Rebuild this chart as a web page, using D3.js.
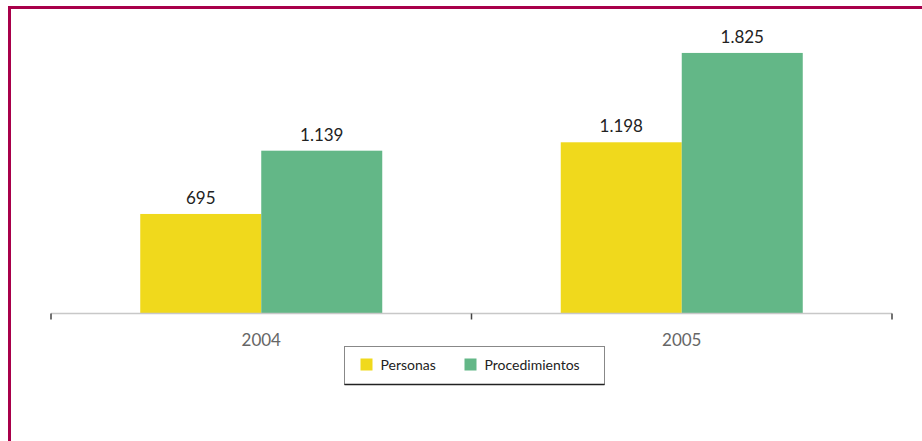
<!DOCTYPE html>
<html>
<head>
<meta charset="utf-8">
<script src="https://cdn.jsdelivr.net/npm/d3@7"></script>
<style>
  html, body { margin: 0; padding: 0; background: #fff; }
  svg { display: block; }
</style>
</head>
<body>
<svg id="chart" width="922" height="441"></svg>
<script>
const categories = ["2004", "2005"];
const seriesNames = ["Personas", "Procedimientos"];
const personas = [695, 1198];
const procedimientos = [1139, 1825];
const seriesColors = ["#f0d91c", "#63b787"];

const svg = d3.select("#chart");
const W = 922, H = 441;

// frame border (top + left)
svg.append("path")
  .attr("d", `M9.5,${H} L9.5,7.5 L${W},7.5`)
  .attr("fill", "none")
  .attr("stroke", "#a8004a")
  .attr("stroke-width", 3);

const x0 = d3.scaleBand().domain(categories).range([51, 892]).paddingInner(0).paddingOuter(0);
const x1 = d3.scaleBand().domain(seriesNames).range([0, 242]);
const y = d3.scaleLinear().domain([0, 2000]).range([313, 28]);

const data = categories.map((c, i) => ({
  cat: c,
  vals: [
    { name: seriesNames[0], value: personas[i], color: seriesColors[0] },
    { name: seriesNames[1], value: procedimientos[i], color: seriesColors[1] }
  ]
}));

const fmt = v => d3.format(",")(v).replace(/,/g, ".");

const g = svg.append("g");
const groups = g.selectAll("g.cat").data(data).join("g")
  .attr("transform", d => `translate(${x0(d.cat) + x0.bandwidth() / 2 - 121},0)`);

groups.selectAll("rect").data(d => d.vals).join("rect")
  .attr("x", d => x1(d.name))
  .attr("y", d => y(d.value))
  .attr("width", x1.bandwidth())
  .attr("height", d => y(0) - y(d.value))
  .attr("fill", d => d.color);

groups.selectAll("text.val").data(d => d.vals).join("text")
  .attr("class", "val")
  .attr("x", d => x1(d.name) + x1.bandwidth() / 2)
  .attr("y", d => y(d.value) - 10)
  .attr("text-anchor", "middle")
  .attr("font-family", "Lato, 'Open Sans', sans-serif")
  .attr("font-size", 17)
  .attr("fill", "#222")
  .text(d => fmt(d.value));

// x axis
const axis = d3.axisBottom(x0).tickSize(0).tickPadding(20);
const ax = svg.append("g").attr("transform", "translate(0,313.5)").call(axis);
ax.select(".domain").attr("stroke", "#c8c8c8").attr("stroke-width", 1.5)
  .attr("d", "M51,0H892");
ax.selectAll("text")
  .attr("font-family", "Lato, 'Open Sans', sans-serif")
  .attr("font-size", 17)
  .attr("fill", "#666")
  .attr("dy", "0.71em");

// category boundary ticks
const bounds = [x0.range()[0], ...categories.slice(1).map(c => x0(c)), x0.range()[1]];
ax.selectAll("line.bound").data(bounds).join("line")
  .attr("class", "bound")
  .attr("x1", d => d).attr("x2", d => d)
  .attr("y1", 0).attr("y2", 6)
  .attr("stroke", "#444").attr("stroke-width", 1.5);

// legend
const lg = svg.append("g").attr("transform", "translate(344.5,346.5)");
lg.append("rect").attr("width", 260).attr("height", 38)
  .attr("fill", "#fff").attr("stroke", "#888").attr("stroke-width", 1);
lg.append("line").attr("x1", 0).attr("x2", 260).attr("y1", 38).attr("y2", 38)
  .attr("stroke", "#222").attr("stroke-width", 1.5);
const legX = [16, 120];
const items = lg.selectAll("g.item").data(seriesNames).join("g")
  .attr("transform", (d, i) => `translate(${legX[i]},12)`);
items.append("rect").attr("width", 12).attr("height", 12)
  .attr("fill", (d, i) => seriesColors[i]);
items.append("text").attr("x", 20).attr("y", 11)
  .attr("font-family", "Lato, 'Open Sans', sans-serif")
  .attr("font-size", 14)
  .attr("fill", "#222")
  .text(d => d);
</script>
</body>
</html>
